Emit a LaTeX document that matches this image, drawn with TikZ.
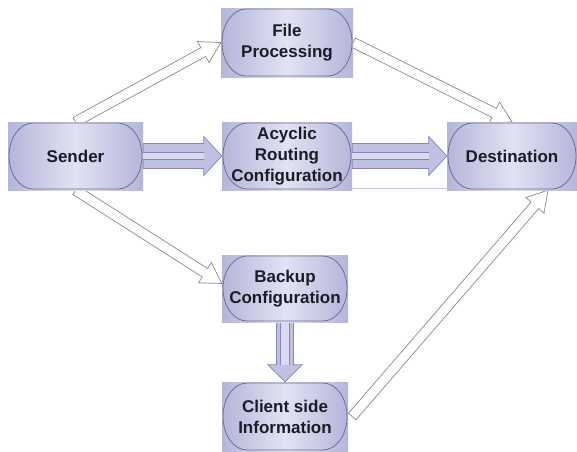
\documentclass[tikz,border=0pt]{standalone}
\usepackage{fontspec}
\setmainfont{Liberation Sans}
\usetikzlibrary{calc}
\definecolor{lavA}{HTML}{B4B5DA}
\definecolor{lavB}{HTML}{E2E2F2}
\definecolor{pillc}{HTML}{6E6E9E}
\definecolor{arrfill}{HTML}{BFC0E2}
\definecolor{arrlight}{HTML}{DADAF0}
\definecolor{arrline}{HTML}{8686B4}
\definecolor{holline}{HTML}{8A8A8A}
\definecolor{txtc}{HTML}{1C1C28}
\tikzset{
  nodebox/.style={rectangle, inner sep=0pt, left color=lavA, right color=lavA, middle color=lavB,
    text=txtc, font=\fontsize{17}{21}\selectfont\bfseries, align=center,
    path picture={\draw[pillc, line width=0.8pt] let \p1=(path picture bounding box.south west),
      \p2=(path picture bounding box.north east), \n1={(\y2-\y1)/2-1} in
      (\x1+25pt,\y1+1pt) -- (\x2-25pt,\y1+1pt) arc[start angle=-90, end angle=90, x radius=24pt, y radius=\n1]
      -- (\x1+25pt,\y2-1pt) arc[start angle=90, end angle=270, x radius=24pt, y radius=\n1] -- cycle;}},
  hollow/.style={draw=holline, fill=white, line width=0.7pt, line join=miter},
  dbl/.style={draw=arrline, fill=arrfill, line width=0.7pt},
  dblin/.style={draw=arrline, line width=0.7pt},
}
\newcommand\hollowarrow[2]{%
  \coordinate (ha) at (#1); \coordinate (hb) at (#2);
  \coordinate (hc) at ($(hb)!20pt!(ha)$);
  \draw[hollow] ($(ha)!5pt!90:(hb)$) -- ($(hc)!5pt!-90:(ha)$) -- ($(hc)!12pt!-90:(ha)$) -- (hb)
    -- ($(hc)!12pt!90:(ha)$) -- ($(hc)!5pt!90:(ha)$) -- ($(ha)!5pt!-90:(hb)$) -- cycle;}
\newcommand\dblarrow[6]{%
  \coordinate (da) at (#1); \coordinate (db) at (#2);
  \coordinate (dc) at ($(db)!#5!(da)$);
  \draw[dbl] ($(da)!#3!90:(db)$) -- ($(dc)!#3!-90:(da)$) -- ($(dc)!#4!-90:(da)$) -- (db)
    -- ($(dc)!#4!90:(da)$) -- ($(dc)!#3!90:(da)$) -- ($(da)!#3!-90:(db)$) -- cycle;
  \fill[arrlight] ($(da)!#6!90:(db)$) -- ($(dc)!#6!-90:(da)$) -- ($(dc)!#6!90:(da)$) -- ($(da)!#6!-90:(db)$) -- cycle;
  \draw[dblin] ($(da)!#6!90:(db)$) -- ($(dc)!#6!-90:(da)$) ($(da)!#6!-90:(db)$) -- ($(dc)!#6!90:(da)$);}
\begin{document}
\begin{tikzpicture}[x=1pt,y=1pt]
\useasboundingbox (0,0) rectangle (577,-451);
% invisible placement of nodes first for anchors
\path (75.5,-156) node[minimum width=135pt, minimum height=68pt, inner sep=0pt] (sender) {};
\path (287,-42.5) node[minimum width=132pt, minimum height=69pt, inner sep=0pt] (file) {};
\path (287,-156) node[minimum width=130pt, minimum height=68pt, inner sep=0pt] (acyc) {};
\path (512,-156) node[minimum width=130pt, minimum height=68pt, inner sep=0pt] (dest) {};
\path (285,-288.5) node[minimum width=126pt, minimum height=67pt, inner sep=0pt] (backup) {};
\path (285,-416.5) node[minimum width=126pt, minimum height=69pt, inner sep=0pt] (client) {};
% connectors
\draw[color=lavA!70!white, line width=0.8pt] ([yshift=2pt]acyc.south east) -- ([yshift=2pt]dest.south west);
\hollowarrow{sender.north}{file.west}
\hollowarrow{file.east}{dest.north}
\hollowarrow{sender.south}{$(backup.west)+(0,5)$}
\hollowarrow{$(client.east)+(4,0)$}{$(dest.south)+(36,0)$}
\dblarrow{sender.east}{acyc.west}{12.5pt}{19.5pt}{18pt}{3.5pt}
\dblarrow{acyc.east}{dest.west}{12.5pt}{19.5pt}{18pt}{3.5pt}
\dblarrow{backup.south}{client.north}{8.5pt}{17pt}{17pt}{4.5pt}
% visible nodes
\node[nodebox, minimum width=135pt, minimum height=68pt] (senderbox) at (sender) {Sender};
\node[nodebox, minimum width=132pt, minimum height=69pt] (filebox) at (file) {File\\Processing};
\node[nodebox, minimum width=130pt, minimum height=68pt] (acycbox) at (acyc) {Acyclic\\Routing\\Configuration};
\node[nodebox, minimum width=130pt, minimum height=68pt] (destbox) at (dest) {Destination};
\node[nodebox, minimum width=126pt, minimum height=67pt] (backupbox) at (backup) {Backup\\Configuration};
\node[nodebox, minimum width=126pt, minimum height=69pt] (clientbox) at (client) {Client side\\Information};
\end{tikzpicture}
\end{document}
